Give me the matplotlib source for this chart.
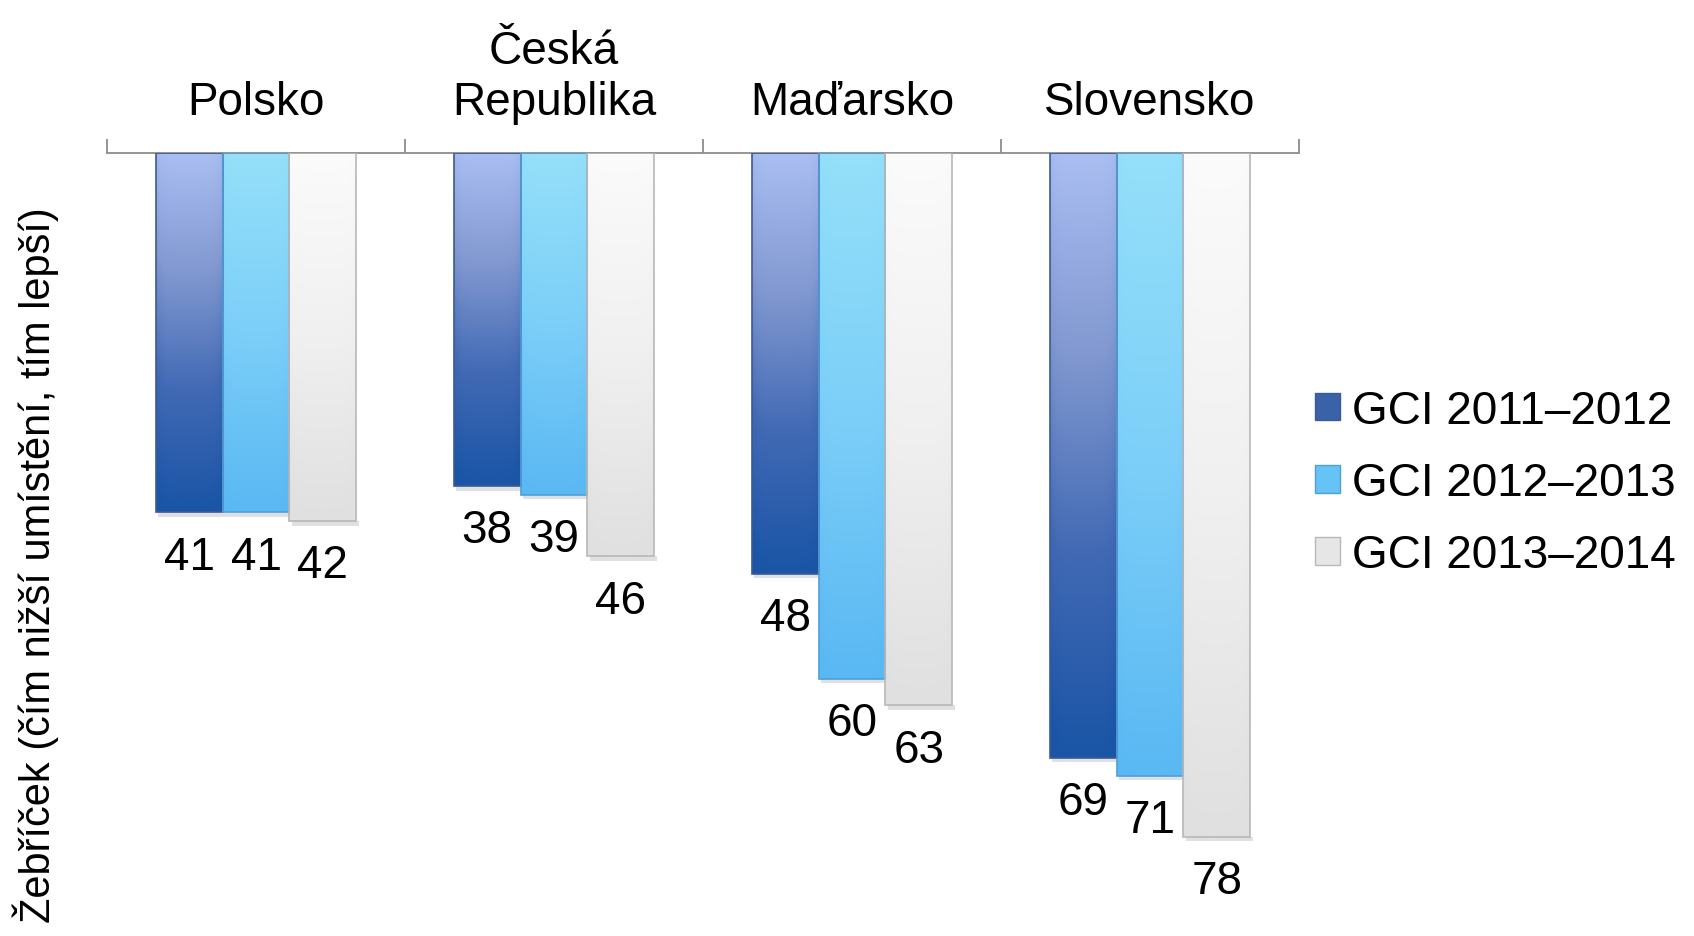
import numpy as np
import matplotlib.pyplot as plt
from matplotlib.colors import LinearSegmentedColormap
from matplotlib.patches import Patch

plt.rc('font', family=['Liberation Sans', 'DejaVu Sans'])

countries = ['Polsko', 'Česká\nRepublika', 'Maďarsko', 'Slovensko']
series = ['GCI 2011–2012', 'GCI 2012–2013', 'GCI 2013–2014']
gci_2011 = [41, 38, 48, 69]
gci_2012 = [41, 39, 60, 71]
gci_2013 = [42, 46, 63, 78]
values = [gci_2011, gci_2012, gci_2013]

# top colour -> bottom colour of each bar gradient
grads = [['#aabef2', '#8198d0', '#4169b4', '#1a55a6'],
         ['#95e0fa', '#7ccff8', '#5ab8f3'],
         ['#fbfbfb', '#f0f0f0', '#e0e0e0']]
edges = ['#3c5a94', '#4f9fd6', '#b8b8b8']
legend_cols = ['#3a62a8', '#66c3f5', '#e6e6e6']

fig = plt.figure(figsize=(16.94, 9.37), dpi=100)
ax = fig.add_axes([107 / 1694, 0, 1192 / 1694, 1 - 154 / 937])

x = np.arange(len(countries))
w = 0.224
ymax = 89.3

for i, vals in enumerate(values):
    cmap = LinearSegmentedColormap.from_list('g%d' % i, grads[i])
    xs = x + (i - 1) * w
    bars = ax.bar(xs, vals, w, color='none', edgecolor=edges[i], linewidth=1.2, zorder=3)
    for b, v in zip(bars, vals):
        x0 = b.get_x()
        rows = np.linspace(0, 1, 200)[:, None]
        cols = np.linspace(0, 1, 60)[None, :]
        edge = 0.06 * (np.abs(cols - 0.5) * 2) ** 6
        img = np.clip(rows + edge, 0, 1)
        im = ax.imshow(img, cmap=cmap, vmin=0, vmax=1, aspect='auto', origin='upper',
                       extent=[x0, x0 + w, v, 0], zorder=2, interpolation='bilinear')
        im.set_clip_path(b)
        # faint shadow under bar
        ax.bar(x0 + w / 2 + 0.008, 0.5, w, bottom=v, color='#000000', alpha=0.12,
               linewidth=0, zorder=1)
        ax.annotate(str(v), (x0 + w / 2, v), xytext=(0, -16), textcoords='offset points',
                    ha='center', va='top', fontsize=33, color='black')

ax.set_xlim(-0.5, len(countries) - 0.5)
ax.set_ylim(ymax, 0)

ax.xaxis.tick_top()
ax.set_xticks(np.arange(-0.5, len(countries)), labels=[''] * (len(countries) + 1))
ax.set_xticks(x, labels=countries, minor=True)
ax.tick_params(axis='x', which='major', length=10, width=1.3, color='#8c8c8c', top=True)
ax.tick_params(axis='x', which='minor', length=0, pad=21, labelsize=33, top=True)
ax.set_yticks([])
for s in ['left', 'right', 'bottom']:
    ax.spines[s].set_visible(False)
ax.spines['top'].set_color('#8c8c8c')
ax.spines['top'].set_linewidth(1.3)

handles = [Patch(facecolor=legend_cols[i], edgecolor=edges[i], label=series[i]) for i in range(3)]
fig.legend(handles=handles, loc='center left', bbox_to_anchor=(1292 / 1694, 1 - 484 / 937),
           frameon=False, fontsize=33, handlelength=0.55, handleheight=0.55,
           handletextpad=0.25, labelspacing=0.62, borderpad=0)

fig.text(36 / 1694, 1 - 565 / 937, 'Žebříček (čím nižší umístění, tím lepší)',
         rotation=90, ha='center', va='center', fontsize=30)

fig.savefig('out.png', dpi=100)
